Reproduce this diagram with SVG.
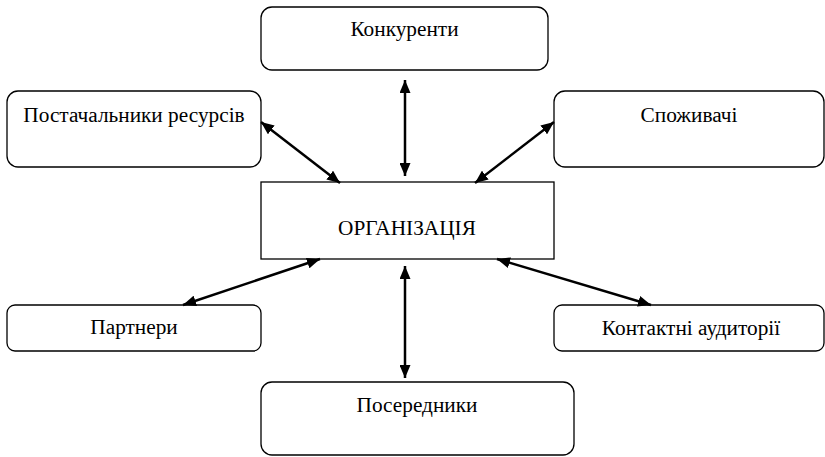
<svg xmlns="http://www.w3.org/2000/svg" width="825" height="457" viewBox="0 0 825 457">
<defs>
<style>
.box{fill:#fff;stroke:#000;stroke-width:1.3}
.lbl{font-family:"Liberation Serif","Times New Roman",serif;font-size:21.3px;fill:#000;text-anchor:middle}
.con{stroke:#000;stroke-width:2.5;fill:none;marker-start:url(#ah);marker-end:url(#ah)}
</style>
<marker id="ah" markerUnits="userSpaceOnUse" markerWidth="13" markerHeight="11" refX="13" refY="5.5" orient="auto-start-reverse" viewBox="0 0 13 11">
<path d="M0,0 L13,5.5 L0,11 z" fill="#000"/>
</marker>
</defs>
<rect width="825" height="457" fill="#fff"/>
<g id="n-konkurenty"><rect class="box" x="261" y="7" width="287" height="63" rx="11"/><text class="lbl" x="404.5" y="36">Конкуренти</text></g>
<g id="n-postachalnyky"><rect class="box" x="7" y="91" width="254" height="76" rx="11"/><text class="lbl" x="134" y="122">Постачальники ресурсів</text></g>
<g id="n-spozhyvachi"><rect class="box" x="554" y="91" width="270" height="76" rx="11"/><text class="lbl" x="689" y="122">Споживачі</text></g>
<g id="n-organizatsiya"><rect class="box" x="261" y="182" width="293" height="77"/><text class="lbl" x="407" y="235">ОРГАНІЗАЦІЯ</text></g>
<g id="n-partnery"><rect class="box" x="7" y="305" width="254" height="46" rx="8"/><text class="lbl" x="134" y="334">Партнери</text></g>
<g id="n-kontaktni"><rect class="box" x="554" y="305" width="270" height="46" rx="8"/><text class="lbl" x="691" y="335">Контактні аудиторії</text></g>
<g id="n-poserednyky"><rect class="box" x="261" y="382" width="313" height="73" rx="11"/><text class="lbl" x="417" y="412">Посередники</text></g>
<g id="connectors">
<line class="con" x1="405" y1="80" x2="405" y2="176"/>
<line class="con" x1="261" y1="122" x2="340" y2="183"/>
<line class="con" x1="554" y1="122" x2="475" y2="183"/>
<line class="con" x1="183" y1="305" x2="320" y2="259"/>
<line class="con" x1="497" y1="259" x2="651" y2="305"/>
<line class="con" x1="405" y1="266" x2="405" y2="378"/>
</g>
</svg>
